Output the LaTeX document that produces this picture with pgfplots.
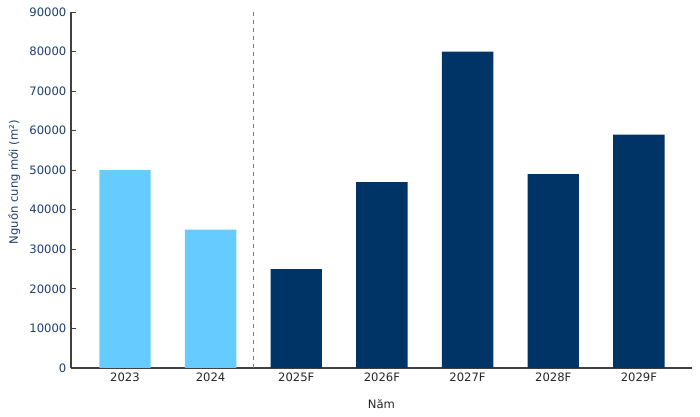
\documentclass[border=0pt]{standalone}
\usepackage{pgfplots}
\pgfplotsset{compat=1.18}
\usepackage{fontspec}
\setmainfont{DejaVu Sans}
\definecolor{lightb}{HTML}{66CCFF}
\definecolor{navy}{HTML}{003366}
\definecolor{labblue}{HTML}{1F3F6F}
\begin{document}
\begin{tikzpicture}
\begin{axis}[
  scale only axis,
  width=465.75pt, height=267pt,
  at={(0,0)}, anchor=south west,
  xmin=-0.63, xmax=6.62,
  ymin=0, ymax=90000,
  axis lines*=left,
  axis line style={draw=black!75, line width=0.8pt},
  xtick={0,1,2,3,4,5,6},
  xticklabels={2023,2024,2025F,2026F,2027F,2028F,2029F},
  ytick={0,10000,...,90000},
  scaled y ticks=false,
  tick align=inside,
  major tick length=3.5pt,
  tick style={draw=black!75, line width=0.6pt},
  /pgf/number format/assume math mode=true,
  yticklabel style={font=\fontsize{8.7}{10}\selectfont, text=labblue},
  xticklabel style={font=\fontsize{8.7}{10}\selectfont, text=black!85},
  yticklabel={\pgfmathprintnumber[fixed,precision=0,1000 sep={}]{\tick}},
  xlabel={Năm}, ylabel={Nguồn cung mới (m²)},
  xlabel style={font=\fontsize{8.7}{10}\selectfont, text=black!85, yshift=-6.5pt},
  ylabel style={font=\fontsize{8.7}{10}\selectfont, text=labblue, at={(ticklabel cs:0.522)}, yshift=0pt},
]
\addplot[ybar, bar width=0.6, fill=lightb, draw=none, bar shift=0pt] coordinates {(0,50000) (1,35000)};
\addplot[ybar, bar width=0.6, fill=navy, draw=none, bar shift=0pt] coordinates {(2,25000) (3,47000) (4,80000) (5,49000) (6,59000)};
\addplot[gray, dashed, line width=0.8pt] coordinates {(1.5,0) (1.5,90000)};
\end{axis}
\pgfresetboundingbox
\path[use as bounding box] (-53.25pt,-36.75pt) rectangle ++(525pt,312.75pt);
\end{tikzpicture}
\end{document}
